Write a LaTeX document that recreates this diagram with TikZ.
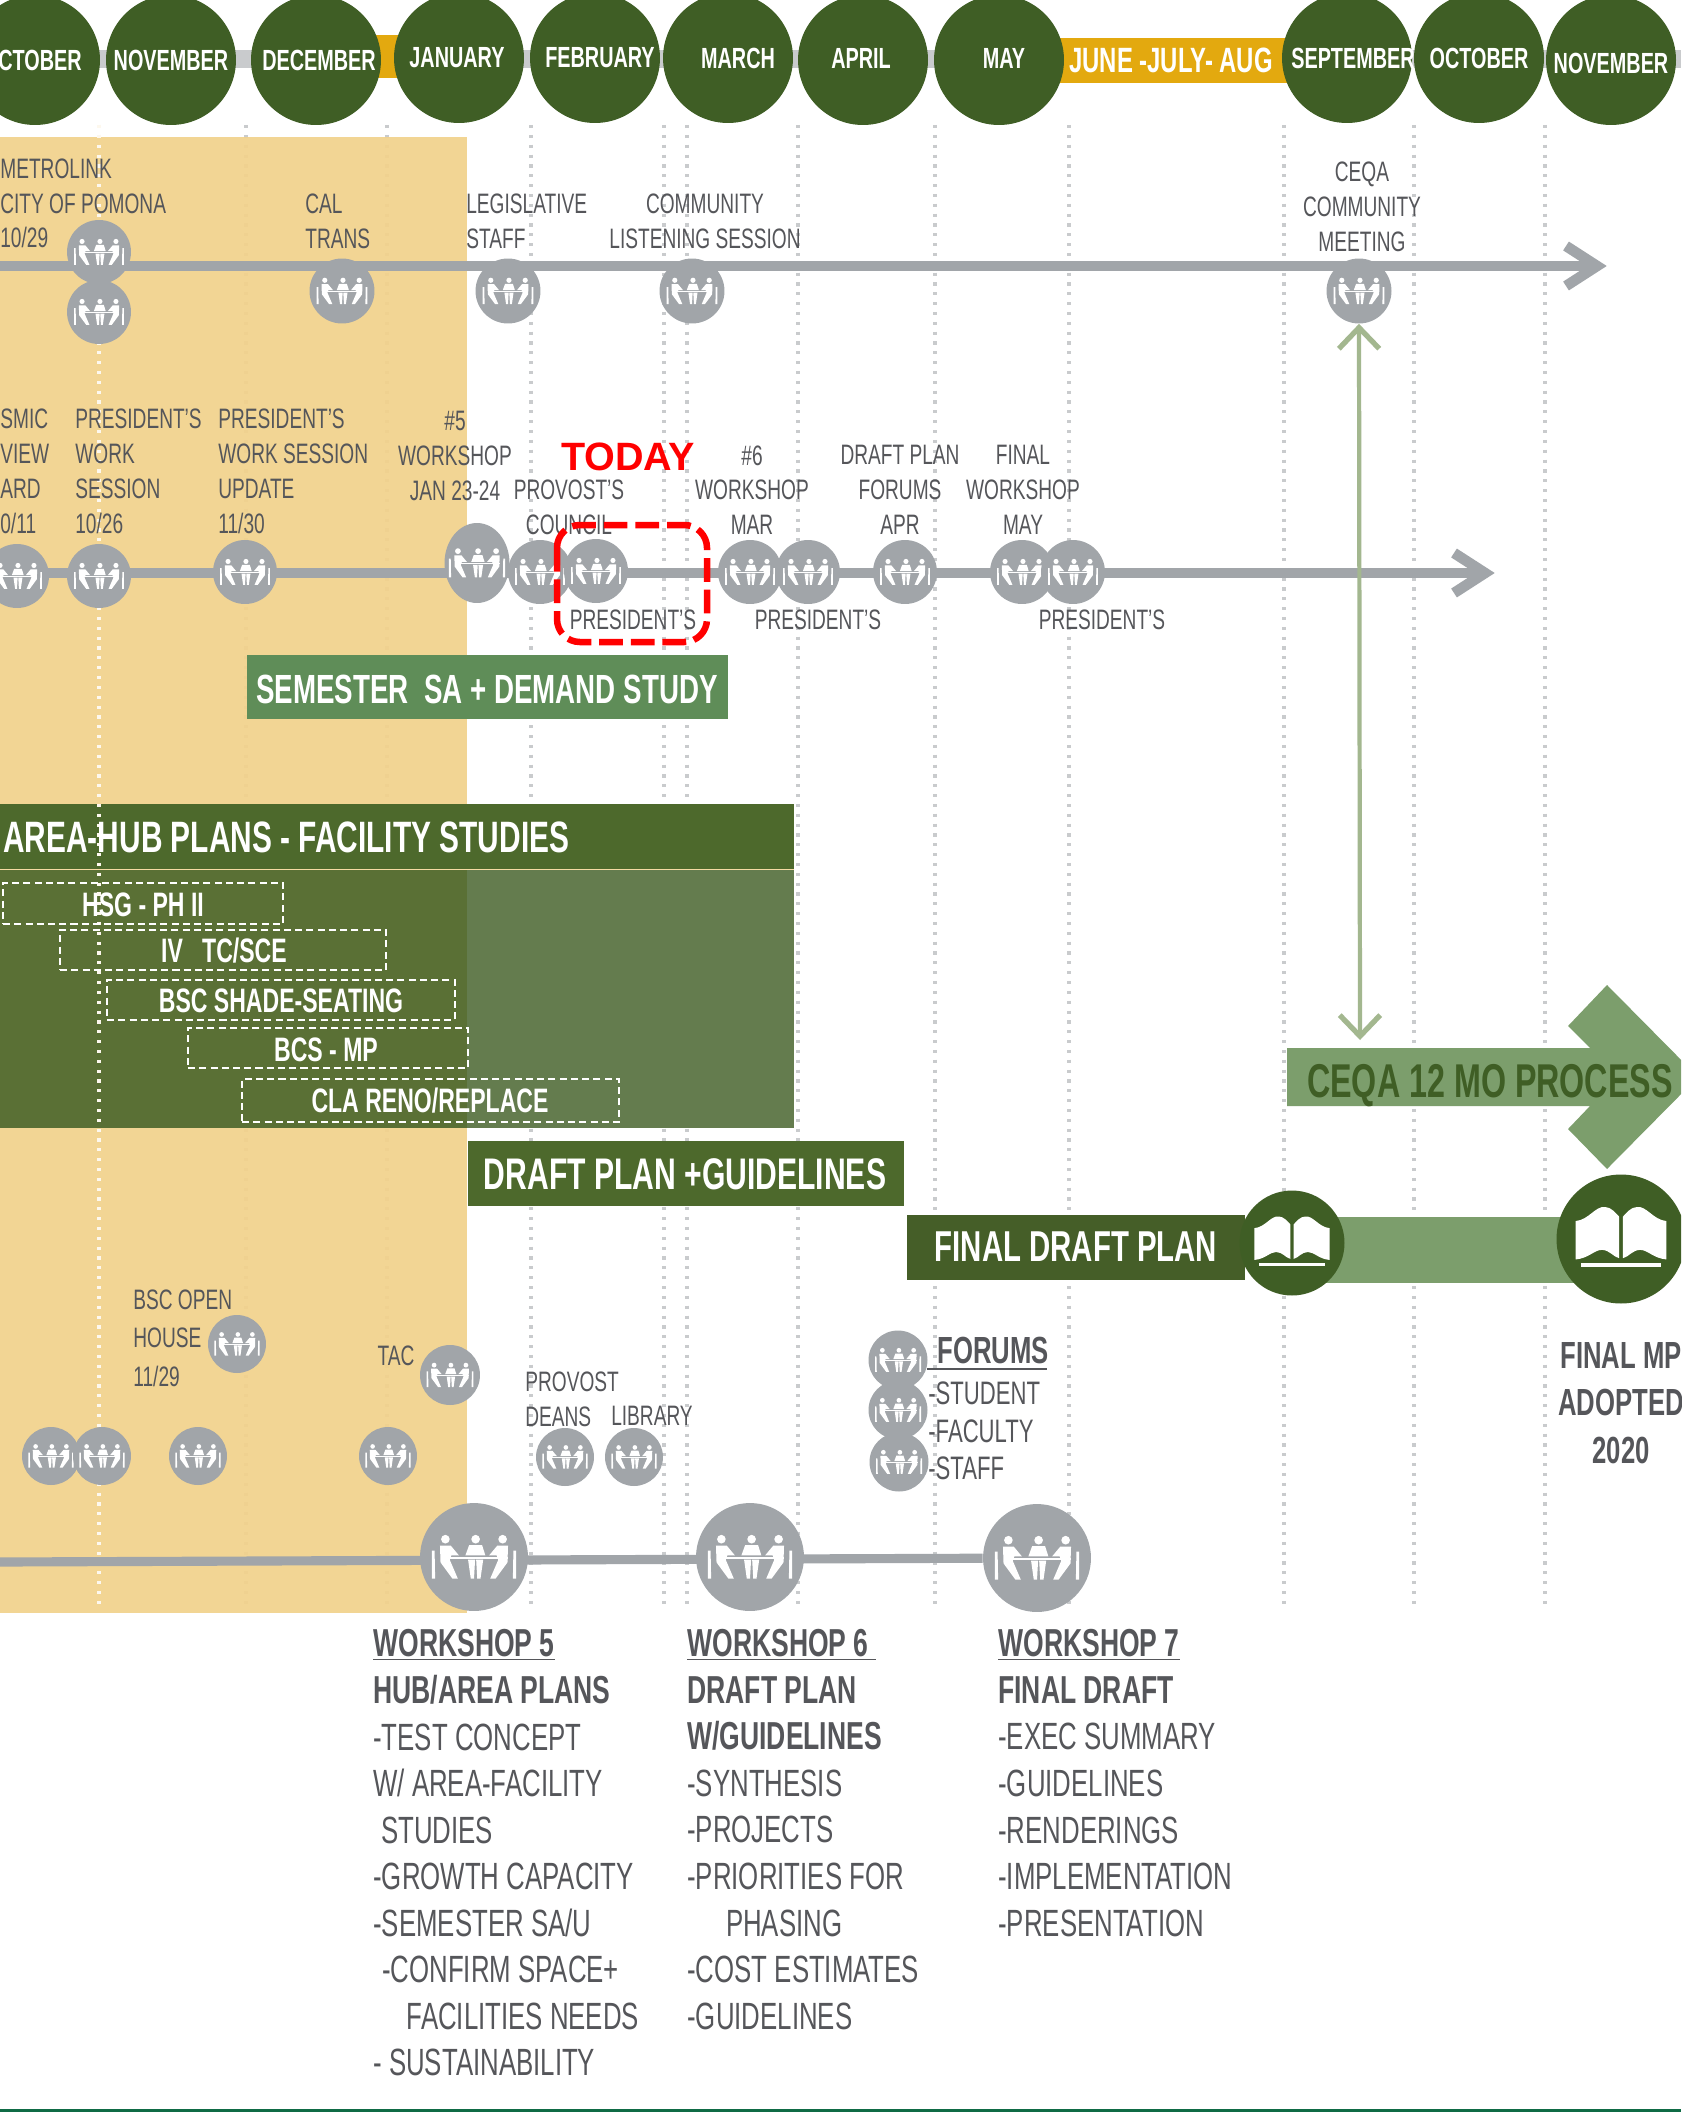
\documentclass[tikz,border=0pt]{standalone}
\usepackage{fontspec}
\setmainfont[FakeStretch=0.68]{Liberation Sans}
\newfontfamily\todayfont{Liberation Sans}
\usetikzlibrary{arrows.meta, shapes.geometric}

\definecolor{darkgreen}{HTML}{3F5E25}
\definecolor{boxgreen}{HTML}{4D692C}
\definecolor{bodyleft}{HTML}{5A7035}
\definecolor{bodyright}{HTML}{647C4E}
\definecolor{midgreen}{HTML}{5F8D58}
\definecolor{ceqagreen}{HTML}{7C9E6C}
\definecolor{paleline}{HTML}{A3B78F}
\definecolor{gold}{HTML}{E3A90F}
\definecolor{sand}{HTML}{F2D28C}
\definecolor{meetgray}{HTML}{A1A5A9}
\definecolor{dotgray}{HTML}{C9CBCD}
\definecolor{txtgray}{HTML}{55565A}
\definecolor{footgreen}{HTML}{0F6B45}

\newcommand{\hd}[1]{{\fontsize{22.2}{26.5}\bfseries\selectfont #1}}

\tikzset{
  monthdot/.style={circle, fill=darkgreen, minimum size=2.6cm, inner sep=0},
  monthtxt/.style={font=\fontsize{16.6}{20}\bfseries\selectfont, text=white, inner sep=0},
  lbl/.style={font=\fontsize{16}{19.8}\selectfont, text=txtgray, inner sep=0, align=center},
  lbll/.style={lbl, align=left},
  listtxt/.style={font=\fontsize{21.6}{26.5}\selectfont, text=txtgray, inner sep=0, align=left, anchor=west},
  headtxt/.style={font=\fontsize{23.2}{28}\bfseries\selectfont, text=white, inner sep=0},
  darkbox/.style={draw=white, line width=1.1pt, dash pattern=on 4pt off 2.4pt, inner sep=0},
  subtxt/.style={font=\fontsize{19.3}{22}\bfseries\selectfont, text=white, inner sep=0},
  meetnode/.style={circle, fill=meetgray, inner sep=0},
  dotline/.style={draw=dotgray, line width=1.8pt, dash pattern=on 1.8pt off 3.8pt},
  tline/.style={draw=meetgray, line width=5.2pt},
  ceqaline/.style={draw=paleline, line width=2.4pt, {Straight Barb[length=12pt, width=23pt, line width=3pt]}-{Straight Barb[length=12pt, width=23pt, line width=3pt]}},
  meeting/.pic={
    \fill[white] (-0.58,-0.005) rectangle (0.63,0.03);
    \fill[white] (0.03,-0.33) circle (0.08);
    \fill[white] (-0.16,-0.03) -- (-0.09,-0.22) -- (0.15,-0.22) -- (0.21,-0.03) -- cycle;
    \fill[white] (-0.11,0.05) -- (-0.06,0.4) -- (0.0,0.4) -- (0.02,0.05) -- cycle;
    \fill[white] (0.04,0.05) -- (0.06,0.4) -- (0.12,0.4) -- (0.17,0.05) -- cycle;
    \foreach \sgn in {-1, 1} {
      \begin{scope}[xscale=\sgn]
        \fill[white] (0.53,-0.33) circle (0.08);
        \fill[white] (0.63,-0.21) -- (0.43,-0.21) -- (0.28,-0.03) -- (0.42,-0.03) -- (0.45,0.05) -- (0.3,0.4) -- (0.4,0.4) -- (0.62,0.1) -- cycle;
        \fill[white] (0.73,-0.12) -- (0.78,-0.12) -- (0.78,0.4) -- (0.72,0.4) -- cycle;
      \end{scope}
    }
  },
  bookicon/.pic={
    \fill[white] (-0.71,-0.28) .. controls (-0.5,-0.3) and (-0.4,-0.52) .. (-0.25,-0.5) .. controls (-0.15,-0.5) and (-0.08,-0.4) .. (-0.03,-0.35) -- (-0.03,0.3) .. controls (-0.12,0.28) and (-0.18,0.17) .. (-0.3,0.17) .. controls (-0.42,0.17) and (-0.5,0.3) .. (-0.71,0.32) -- cycle;
    \fill[white] (0.71,-0.28) .. controls (0.5,-0.3) and (0.4,-0.52) .. (0.25,-0.5) .. controls (0.15,-0.5) and (0.08,-0.4) .. (0.03,-0.35) -- (0.03,0.3) .. controls (0.12,0.28) and (0.18,0.17) .. (0.3,0.17) .. controls (0.42,0.17) and (0.5,0.3) .. (0.71,0.32) -- cycle;
    \fill[white] (-0.63,0.38) rectangle (0.63,0.44);
  }
}
% meeting circle: name, x, y, radius
\newcommand{\meet}[4]{%
  \node[meetnode, minimum size=#4*0.04cm] (#1) at (#2,#3) {};
  \pic[scale=#4] at (#1) {meeting};
}

\begin{document}
\begin{tikzpicture}[x=0.02cm,y=-0.02cm]
\useasboundingbox (0,0) rectangle (1681,2112);
\clip (0,0) rectangle (1681,2112);
\fill[white] (0,0) rectangle (1681,2112);

% month band
\fill[dotgray] (0,50) rectangle (1681,68);
\fill[gold] (375,35) rectangle (400,78);
\fill[gold] (1055,38) rectangle (1290,83);
\node[monthdot] (octA) at (35,60) {};
\node[monthdot] (novA) at (171,60) {};
\node[monthdot] (decA) at (316,60) {};
\node[monthdot] (jan) at (459,58) {};
\node[monthdot] (feb) at (595,58) {};
\node[monthdot] (mar) at (728,58) {};
\node[monthdot] (apr) at (863,60) {};
\node[monthdot] (may) at (999,60) {};
\node[monthdot] (sep) at (1347,58) {};
\node[monthdot] (octB) at (1479,58) {};
\node[monthdot] (novB) at (1611,60) {};
\node[monthtxt, anchor=west] (octAT) at (-2,60) {CTOBER};
\node[monthtxt] (novAT) at (171,60) {NOVEMBER};
\node[monthtxt] (decAT) at (319,60) {DECEMBER};
\node[monthtxt] (janT) at (457,58) {JANUARY};
\node[monthtxt] (febT) at (600,58) {FEBRUARY};
\node[monthtxt] (marT) at (738,58) {MARCH};
\node[monthtxt] (aprT) at (861,58) {APRIL};
\node[monthtxt] (mayT) at (1004,58) {MAY};
\node[monthtxt] (sepT) at (1353,58) {SEPTEMBER};
\node[monthtxt] (octBT) at (1479,58) {OCTOBER};
\node[monthtxt] (novBT) at (1611,63) {NOVEMBER};
\node[monthtxt, font=\fontsize{20}{24}\bfseries\selectfont] (summer) at (1171,60) {JUNE -JULY- AUG};

% month guides
\draw[dotline] (246,125) -- (246,1610);
\draw[dotline] (387,125) -- (387,1610);
\draw[dotline] (531,125) -- (531,1610);
\draw[dotline] (664,125) -- (664,1610);
\draw[dotline] (687,125) -- (687,1610);
\draw[dotline] (798,125) -- (798,1610);
\draw[dotline] (935,125) -- (935,1610);
\draw[dotline] (1069,125) -- (1069,1610);
\draw[dotline] (1284,125) -- (1284,1610);
\draw[dotline] (1414,125) -- (1414,1610);
\draw[dotline] (1545,125) -- (1545,1610);

\fill[sand, opacity=0.93] (0,137) rectangle (467,1613);

% study blocks
\fill[bodyleft] (0,869) rectangle (467,1128);
\fill[bodyright] (467,869) rectangle (794,1128);
\fill[boxgreen] (0,804) rectangle (794,869);
\draw[sand!80!white, line width=0.5pt] (0,869) -- (794,869);
\draw[dotline, draw=white!85!sand] (99,125) -- (99,1610);

\node[fill=midgreen, minimum width=9.62cm, minimum height=1.28cm, inner sep=0] (semBox) at (487.5,687) {};
\node[headtxt] (semT) at (487,689) {SEMESTER\ \ SA + DEMAND STUDY};
\node[headtxt, anchor=west, font=\fontsize{25}{28}\bfseries\selectfont] (areaT) at (3,837) {AREA-HUB PLANS - FACILITY STUDIES};

\node[darkbox, minimum width=5.6cm, minimum height=0.82cm] (hsg) at (143,903.5) {};
\node[darkbox, minimum width=6.52cm, minimum height=0.8cm] (ivbox) at (223,950) {};
\node[darkbox, minimum width=6.96cm, minimum height=0.8cm] (bsc) at (281,1000) {};
\node[darkbox, minimum width=5.6cm, minimum height=0.8cm] (bcs) at (328,1048) {};
\node[darkbox, minimum width=7.54cm, minimum height=0.86cm] (cla) at (430.5,1100.5) {};
\node[subtxt] (hsgT) at (143,905) {HSG - PH II};
\node[subtxt] (ivT) at (224,951) {IV\ \ \ TC/SCE};
\node[subtxt] (bscT) at (281,1001) {BSC SHADE-SEATING};
\node[subtxt] (bcsT) at (326,1050) {BCS - MP};
\node[subtxt] (claT) at (430,1101) {CLA RENO/REPLACE};

\node[fill=boxgreen, minimum width=8.72cm, minimum height=1.3cm, inner sep=0] (draftBox) at (686,1173) {};
\node[headtxt, font=\fontsize{25.2}{28}\bfseries\selectfont] (draftT) at (685,1174) {DRAFT PLAN +GUIDELINES};

% CEQA arrow
\fill[ceqagreen] (1287,1048) -- (1590,1048) -- (1568,1026) -- (1607,985) -- (1698,1077) -- (1607,1169) -- (1568,1129) -- (1590,1106) -- (1287,1106) -- cycle;
\node[headtxt, text=darkgreen, font=\fontsize{27}{30}\bfseries\selectfont] (ceqaT) at (1490,1086) {CEQA 12 MO PROCESS};

% final plan
\fill[ceqagreen] (1300,1217) rectangle (1600,1283);
\node[fill=boxgreen!90!black, minimum width=6.76cm, minimum height=1.3cm, inner sep=0] (finalBox) at (1076,1247) {};
\node[headtxt, font=\fontsize{24.6}{30}\bfseries\selectfont] (finalT) at (1076,1247) {FINAL DRAFT PLAN};
\node[circle, fill=darkgreen, minimum size=2.1cm, inner sep=0] (bookA) at (1292,1243) {};
\pic[scale=53] at (bookA) {bookicon};
\node[circle, fill=darkgreen, minimum size=2.58cm, inner sep=0] (bookB) at (1621,1239) {};
\pic[scale=64] at (bookB) {bookicon};
\node[font=\fontsize{21.5}{27}\bfseries\selectfont, text=txtgray, align=center, inner sep=0] (adopted) at (1621,1403) {FINAL MP\\ADOPTED\\2020};

% top line
\coordinate (topStart) at (0,266);
\coordinate (topEnd) at (1597,266);
\coordinate (topBarbA) at (1566,246);
\coordinate (topBarbB) at (1566,286);
\draw[tline] (topStart) -- (topEnd);
\draw[tline, line width=6pt] (topBarbA) -- (topEnd) -- (topBarbB);
\meet{metroA}{99}{252}{32}
\meet{metroB}{99}{312}{32}
\meet{calT}{342}{291}{32.5}
\meet{legis}{508}{291}{32.5}
\meet{listen}{692}{291}{32.5}
\meet{ceqaM}{1359}{291}{32.5}
\node[lbll, anchor=west] (metroT) at (0,203.5) {METROLINK\\CITY OF POMONA\\10/29};
\node[lbll, anchor=west] (calL) at (305,221.5) {CAL\\TRANS};
\node[lbll, anchor=west] (legisL) at (466,221.5) {LEGISLATIVE\\STAFF};
\node[lbl] (listenL) at (705,221.5) {COMMUNITY\\LISTENING SESSION};
\node[lbl] (ceqaL) at (1362,207) {CEQA\\COMMUNITY\\MEETING};

% second line
\coordinate (midStart) at (0,573);
\coordinate (midEnd) at (1485,573);
\coordinate (midBarbA) at (1454,553);
\coordinate (midBarbB) at (1454,593);
\draw[tline] (midStart) -- (midEnd);
\draw[tline, line width=6pt] (midBarbA) -- (midEnd) -- (midBarbB);
\meet{smic}{17}{576}{32}
\meet{presA}{99}{576}{32}
\meet{presB}{245}{572}{32}
\node[meetnode, ellipse, minimum width=1.3cm, minimum height=1.6cm] (wsFive) at (477,563) {};
\pic[scale=36] at (wsFive) {meeting};
\meet{provC}{540}{572}{32}
\meet{presC}{596}{571}{32}
\meet{wsSix}{750}{572}{32}
\meet{presD}{808}{572}{32}
\meet{forumA}{905}{572}{32}
\meet{wsFin}{1022}{572}{32}
\meet{presE}{1073}{572}{32}
\node[lbll, anchor=west] (smicL) at (0,471.5) {SMIC\\VIEW\\ARD\\0/11};
\node[lbll, anchor=west] (presAL) at (75,471.5) {PRESIDENT'S\\WORK\\SESSION\\10/26};
\node[lbll, anchor=west] (presBL) at (218,471.5) {PRESIDENT'S\\WORK SESSION\\UPDATE\\11/30};
\node[lbl] (wsFiveL) at (455,456) {\#5\\WORKSHOP\\JAN 23-24};
\node[lbl] (provL) at (569,507.5) {PROVOST'S\\COUNCIL};
\node[lbl] (wsSixL) at (752,490) {\#6\\WORKSHOP\\MAR};
\node[lbl] (forumL) at (900,490) {DRAFT PLAN\\FORUMS\\APR};
\node[lbl] (wsFinL) at (1023,490) {FINAL\\WORKSHOP\\MAY};
\node[lbl] (presCL) at (633,620) {PRESIDENT'S};
\node[lbl] (presDL) at (818,620) {PRESIDENT'S};
\node[lbl] (presEL) at (1102,620) {PRESIDENT'S};

% today marker
\node[font=\fontsize{22.5}{26}\todayfont\bfseries\selectfont, text=red, inner sep=0] (today) at (628,457) {TODAY};
\draw[red, line width=3.7pt, rounded corners=13pt, dash pattern=on 13.5pt off 4.5pt] (557,525) rectangle (707,642);

% CEQA link
\coordinate (ceqaEnd) at (1360,1040);
\draw[ceqaline] (ceqaM.south) -- (ceqaEnd);

% lower meetings
\node[lbll, anchor=west, font=\fontsize{16}{22}\selectfont] (bscL) at (133,1338) {BSC OPEN\\HOUSE\\11/29};
\meet{bscM}{237}{1344}{29}
\node[lbl] (tacL) at (396,1356) {TAC};
\meet{tacM}{450}{1375}{30}
\meet{rowA}{51}{1456}{29}
\meet{rowB}{102}{1456}{29}
\meet{rowC}{198}{1456}{29}
\meet{rowD}{388}{1456}{29}
\node[lbll, anchor=west] (provD) at (525,1399) {PROVOST\\DEANS};
\node[lbl] (libL) at (652,1416) {LIBRARY};
\meet{provM}{565}{1457}{29}
\meet{libM}{634}{1457}{29}
\meet{forumS}{898}{1360}{29.5}
\meet{forumF}{898}{1410}{29.5}
\meet{forumT}{899}{1462}{29.5}
\node[font=\fontsize{21.5}{24}\bfseries\selectfont, text=txtgray, inner sep=0, anchor=west] (forumH) at (937,1350) {FORUMS};
\coordinate (ruleA) at (927,1369);
\coordinate (ruleB) at (1047,1369);
\draw[txtgray, line width=0.8pt] (ruleA) -- (ruleB);
\node[listtxt, font=\fontsize{18.5}{21.5}\selectfont] (forumTx) at (928,1431) {-STUDENT\\-FACULTY\\-STAFF};

% workshop line
\coordinate (lowStart) at (0,1562);
\node[circle, minimum size=2.16cm, inner sep=0] (wsSeven) at (1037,1558) {};
\draw[tline] (lowStart) -- (wsSeven);
\meet{wsA}{474}{1557}{54}
\meet{wsB}{750}{1557}{54}
\meet{wsC}{1037}{1558}{54}

\node[listtxt] (wsAT) at (373,1853) {\hd{\underline{WORKSHOP 5}}\\\hd{HUB/AREA PLANS}\\-TEST CONCEPT\\W/ AREA-FACILITY\\\hspace*{4.5pt}STUDIES\\-GROWTH CAPACITY\\-SEMESTER SA/U\\\hspace*{5pt}-CONFIRM SPACE+\\\hspace*{19pt}FACILITIES NEEDS\\- SUSTAINABILITY};
\node[listtxt] (wsBT) at (687,1829.5) {\hd{\underline{WORKSHOP 6~}}\\\hd{DRAFT PLAN}\\\hd{W/GUIDELINES}\\-SYNTHESIS\\-PROJECTS\\-PRIORITIES FOR\\\hspace*{22pt}PHASING\\-COST ESTIMATES\\-GUIDELINES};
\node[listtxt] (wsCT) at (998,1783) {\hd{\underline{WORKSHOP 7}}\\\hd{FINAL DRAFT}\\-EXEC SUMMARY\\-GUIDELINES\\-RENDERINGS\\-IMPLEMENTATION\\-PRESENTATION};

\fill[footgreen] (0,2109) rectangle (1681,2112);
\end{tikzpicture}
\end{document}
